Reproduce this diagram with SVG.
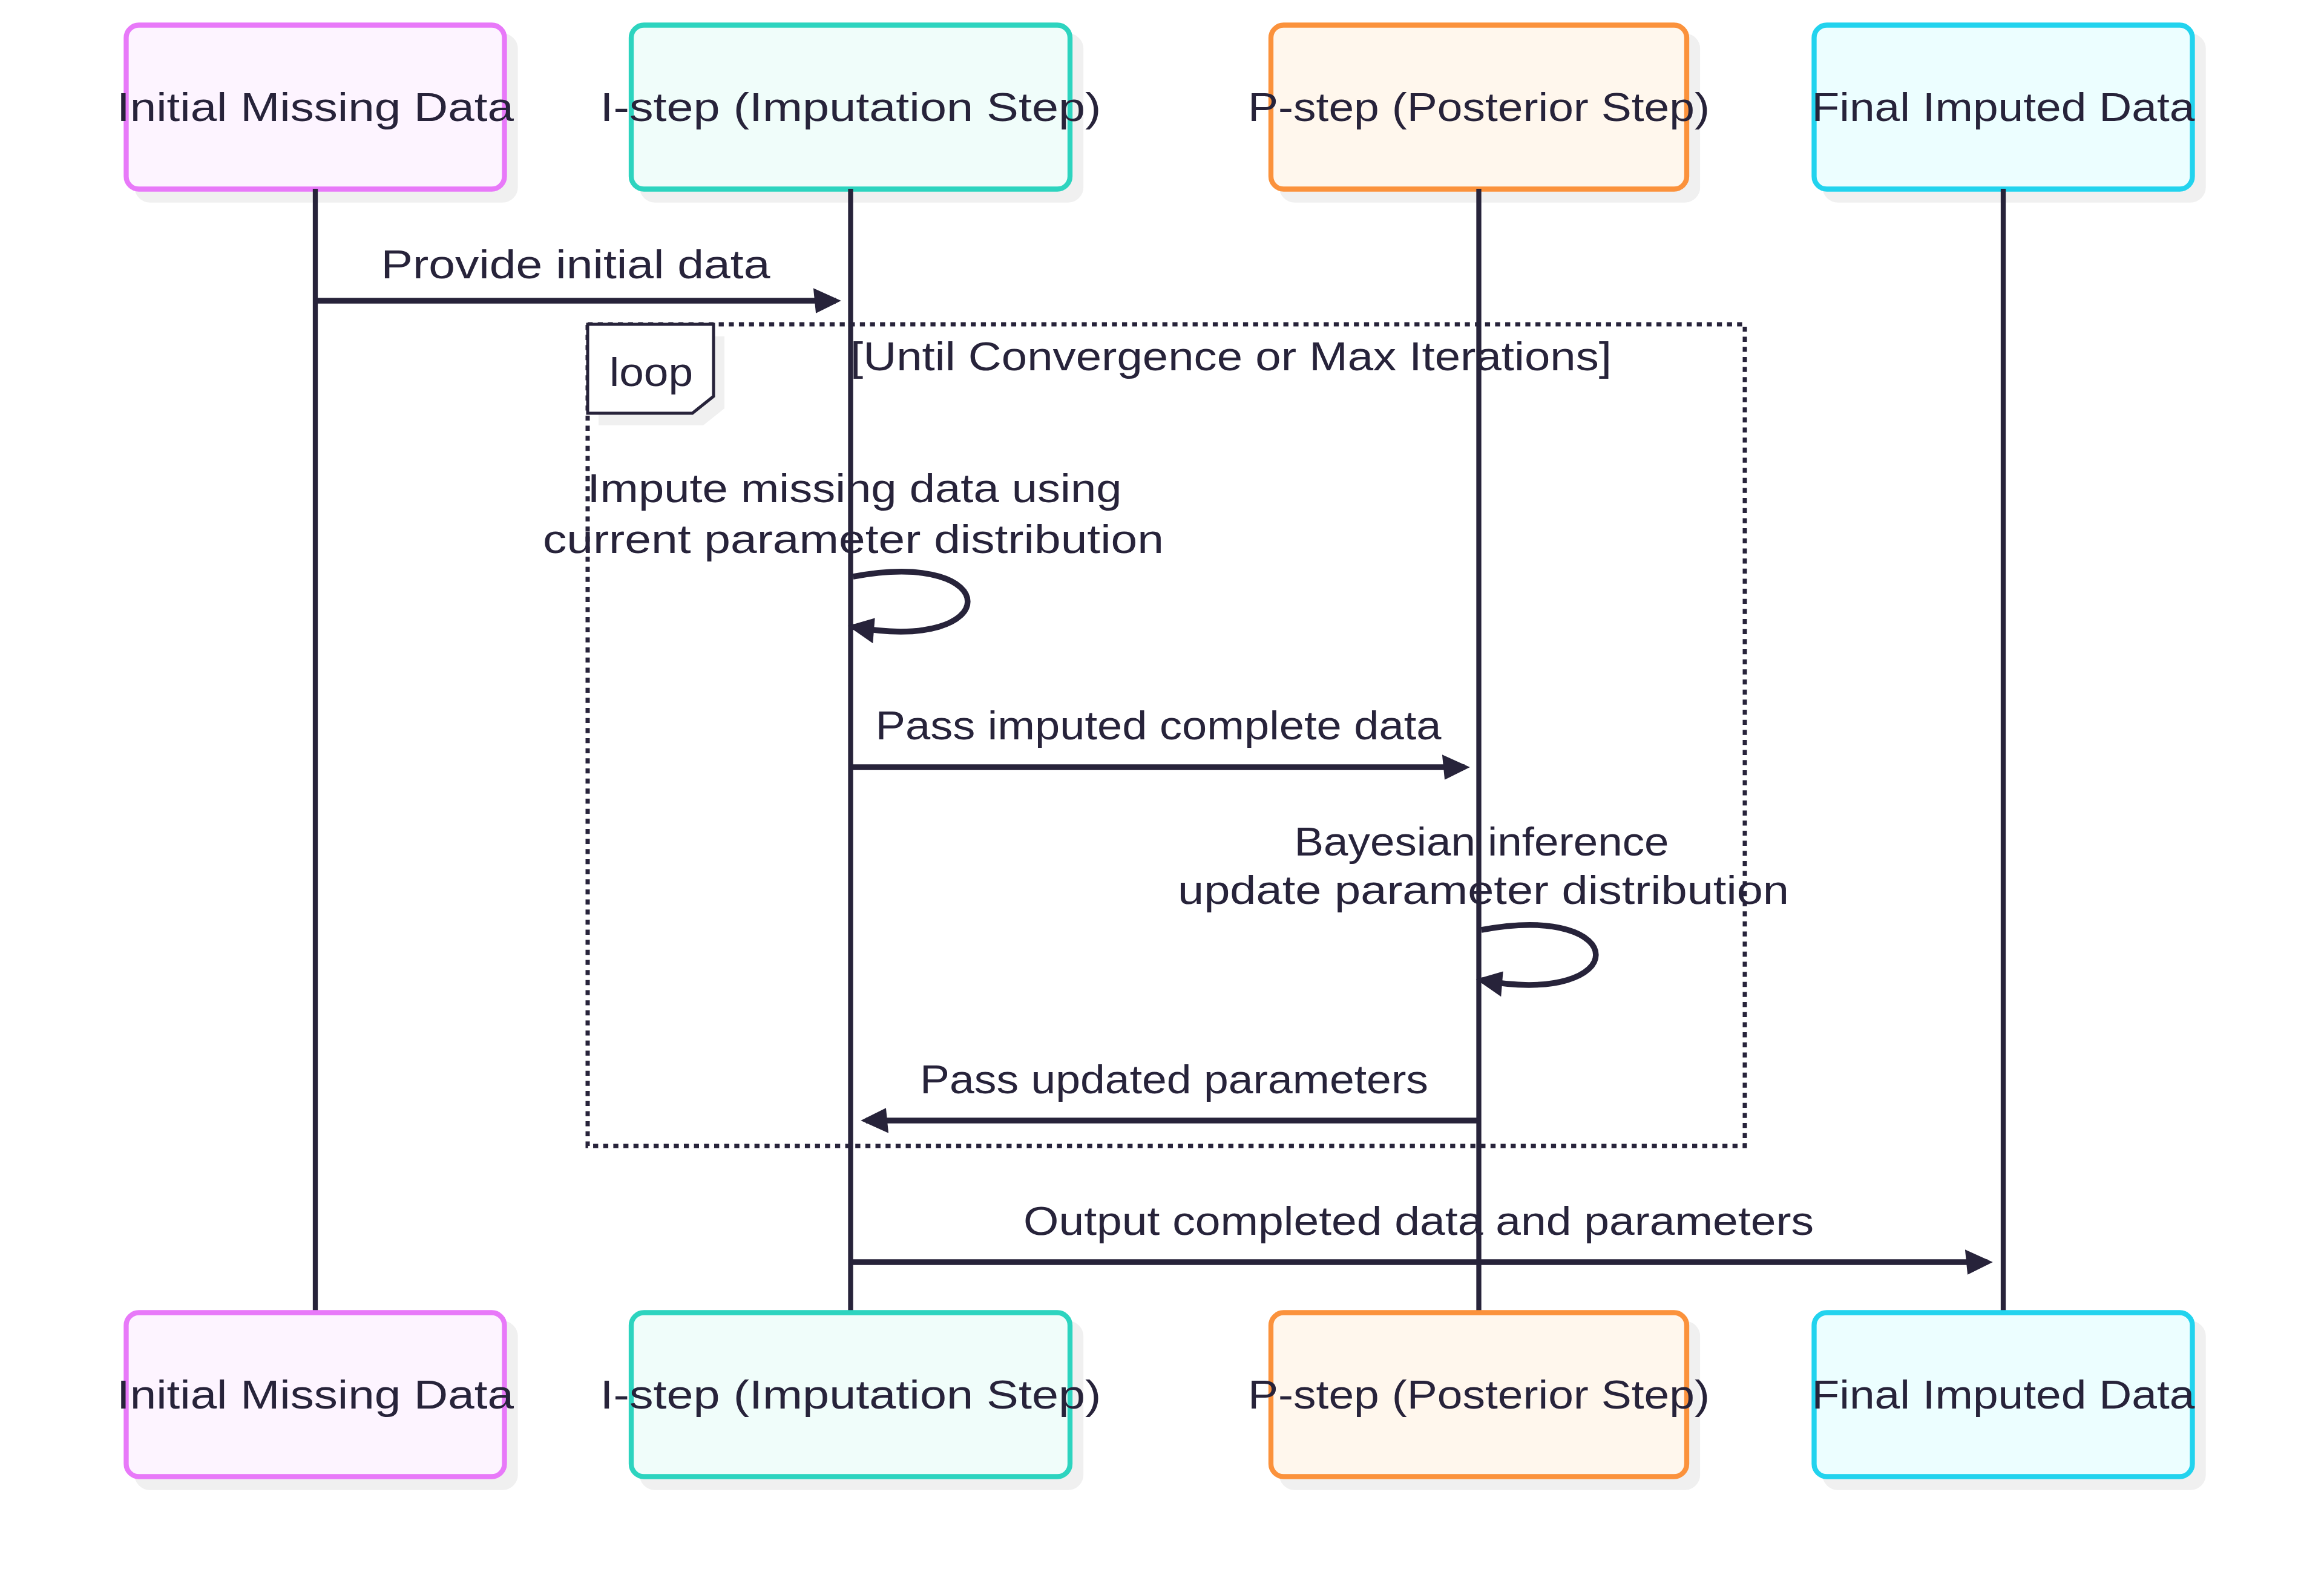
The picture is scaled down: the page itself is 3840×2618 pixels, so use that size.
<svg xmlns="http://www.w3.org/2000/svg" width="3840" height="2618" viewBox="0 0 3840 2618">
<style>
.bg{fill:#ffffff}
.shadow{fill:#f0f0f0;stroke:#f0f0f0;stroke-width:8.33}
.box{stroke-width:8.33}
.t{font-family:"Liberation Sans",Arial,sans-serif;font-size:66px;fill:#27233a;text-anchor:middle}
.life{stroke:#27233a;stroke-width:8.33;fill:none}
.msg{stroke:#27233a;stroke-width:9.5;fill:none;marker-end:url(#arrow)}
.loopline{stroke:#27233a;stroke-width:7;stroke-dasharray:8.33 8.33;fill:none}
.loopbox{fill:#ffffff;stroke:#27233a;stroke-width:5}
.c1{fill:#fdf4ff;stroke:#e879f9}
.c2{fill:#f0fdfa;stroke:#2dd4bf}
.c3{fill:#fff7ed;stroke:#fb923c}
.c4{fill:#ecfeff;stroke:#22d3ee}
</style>
<defs>
<marker id="arrow" viewBox="0 0 12 12" markerUnits="userSpaceOnUse" markerWidth="50" markerHeight="50" refX="7.9" refY="5" orient="auto" overflow="visible">
<path d="M -1 0 L 10 5 L 0 10 z" fill="#27233a"/>
</marker>
</defs>
<rect class="bg" x="0" y="0" width="3840" height="2618"/>

<g id="actor-initial-top">
<rect class="shadow" x="226.5" y="59.5" width="625" height="271" rx="21"/>
<rect class="box c1" x="208.5" y="41.5" width="625" height="271" rx="21"/>
<text class="t" x="521" y="200" textLength="656" lengthAdjust="spacingAndGlyphs">Initial Missing Data</text>
</g>
<g id="actor-istep-top">
<rect class="shadow" x="1061" y="59.5" width="725" height="271" rx="21"/>
<rect class="box c2" x="1043" y="41.5" width="725" height="271" rx="21"/>
<text class="t" x="1405.5" y="200" textLength="828" lengthAdjust="spacingAndGlyphs">I-step (Imputation Step)</text>
</g>
<g id="actor-pstep-top">
<rect class="shadow" x="2118" y="59.5" width="687" height="271" rx="21"/>
<rect class="box c3" x="2100" y="41.5" width="687" height="271" rx="21"/>
<text class="t" x="2443.5" y="200" textLength="763" lengthAdjust="spacingAndGlyphs">P-step (Posterior Step)</text>
</g>
<g id="actor-final-top">
<rect class="shadow" x="3015.5" y="59.5" width="625" height="271" rx="21"/>
<rect class="box c4" x="2997.5" y="41.5" width="625" height="271" rx="21"/>
<text class="t" x="3310" y="200" textLength="633" lengthAdjust="spacingAndGlyphs">Final Imputed Data</text>
</g>

<g id="connectors">
<g id="message-labels">
<text class="t" x="951" y="460" textLength="643" lengthAdjust="spacingAndGlyphs">Provide initial data</text>
<text class="t" x="1412" y="830" textLength="883" lengthAdjust="spacingAndGlyphs">Impute missing data using</text>
<text class="t" x="1410" y="914" textLength="1026" lengthAdjust="spacingAndGlyphs">current parameter distribution</text>
<text class="t" x="1914" y="1222" textLength="935" lengthAdjust="spacingAndGlyphs">Pass imputed complete data</text>
<text class="t" x="2448" y="1414" textLength="619" lengthAdjust="spacingAndGlyphs">Bayesian inference</text>
<text class="t" x="2451" y="1494" textLength="1010" lengthAdjust="spacingAndGlyphs">update parameter distribution</text>
<text class="t" x="1940" y="1807" textLength="840" lengthAdjust="spacingAndGlyphs">Pass updated parameters</text>
<text class="t" x="2344" y="2041" textLength="1306" lengthAdjust="spacingAndGlyphs">Output completed data and parameters</text>
</g>
<g id="lifelines">
<line class="life" x1="521" y1="312" x2="521" y2="2170"/>
<line class="life" x1="1405.5" y1="312" x2="1405.5" y2="2170"/>
<line class="life" x1="2443.5" y1="312" x2="2443.5" y2="2170"/>
<line class="life" x1="3310" y1="312" x2="3310" y2="2170"/>
</g>
<g id="loop">
<polygon points="989,556 1197,556 1197,675 1162,703 989,703" fill="#f0f0f0"/>
<rect class="loopline" x="971" y="536" width="1912" height="1358"/>
<polygon class="loopbox" points="971,536 1179,536 1179,655 1144,683 971,683"/>
<text class="t" x="1076" y="638" textLength="138" lengthAdjust="spacingAndGlyphs">loop</text>
<text class="t" x="2034" y="612" textLength="1258" lengthAdjust="spacingAndGlyphs">[Until Convergence or Max Iterations]</text>
</g>
<g id="messages">
<line class="msg" x1="521" y1="497" x2="1381" y2="497"/>
<path class="msg" d="M 1409.5 953 C 1662 906 1662 1082 1409.5 1036"/>
<line class="msg" x1="1405.5" y1="1268" x2="2420" y2="1268"/>
<path class="msg" d="M 2447.5 1537 C 2700 1490 2700 1666 2447.5 1620"/>
<line class="msg" x1="2443.5" y1="1852" x2="1431" y2="1852"/>
<line class="msg" x1="1405.5" y1="2086" x2="3284" y2="2086"/>
</g>
</g>

<g id="actor-initial-bottom">
<rect class="shadow" x="226.5" y="2187.5" width="625" height="271" rx="21"/>
<rect class="box c1" x="208.5" y="2169.5" width="625" height="271" rx="21"/>
<text class="t" x="521" y="2328" textLength="656" lengthAdjust="spacingAndGlyphs">Initial Missing Data</text>
</g>
<g id="actor-istep-bottom">
<rect class="shadow" x="1061" y="2187.5" width="725" height="271" rx="21"/>
<rect class="box c2" x="1043" y="2169.5" width="725" height="271" rx="21"/>
<text class="t" x="1405.5" y="2328" textLength="828" lengthAdjust="spacingAndGlyphs">I-step (Imputation Step)</text>
</g>
<g id="actor-pstep-bottom">
<rect class="shadow" x="2118" y="2187.5" width="687" height="271" rx="21"/>
<rect class="box c3" x="2100" y="2169.5" width="687" height="271" rx="21"/>
<text class="t" x="2443.5" y="2328" textLength="763" lengthAdjust="spacingAndGlyphs">P-step (Posterior Step)</text>
</g>
<g id="actor-final-bottom">
<rect class="shadow" x="3015.5" y="2187.5" width="625" height="271" rx="21"/>
<rect class="box c4" x="2997.5" y="2169.5" width="625" height="271" rx="21"/>
<text class="t" x="3310" y="2328" textLength="633" lengthAdjust="spacingAndGlyphs">Final Imputed Data</text>
</g>
</svg>
